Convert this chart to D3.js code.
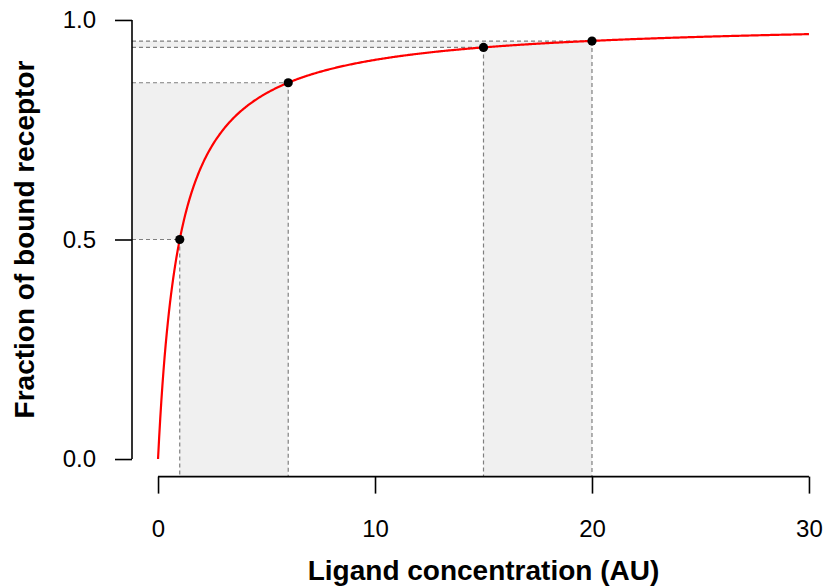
<!DOCTYPE html>
<html>
<head>
<meta charset="utf-8">
<script src="https://cdn.jsdelivr.net/npm/d3@7"></script>
<style>
  html, body { margin: 0; padding: 0; background: #fff; }
  svg { display: block; font-family: "Liberation Sans", Arial, Helvetica, sans-serif; }
</style>
</head>
<body>
<svg id="chart" width="826" height="588"></svg>
<script>
// Dissociation constant of the binding model (AU)
const kd = 1;
// Highlighted ligand concentrations and their bound fractions
const concentrations = [1, 6, 15, 20];
const fractions = [0.5, 0.857, 0.9375, 0.952];
// Pairs of highlighted points that bound each shaded range
const ranges = [[0, 1], [2, 3]];
// Axis ticks
const xTicks = [0, 10, 20, 30];
const yTicks = [0, 0.5, 1];
const yTickLabels = ["0.0", "0.5", "1.0"];
const xDomain = [0, 30];
const yDomain = [0, 1];

const svg = d3.select("#chart");
const plot = { left: 132, right: 835, top: 2.4, bottom: 476.6 };

// 4% padding on each side of the data range, as in a default base plot
const padX = (xDomain[1] - xDomain[0]) * 0.04;
const padY = (yDomain[1] - yDomain[0]) * 0.04;
const x = d3.scaleLinear().domain([xDomain[0] - padX, xDomain[1] + padX]).range([plot.left, plot.right]);
const y = d3.scaleLinear().domain([yDomain[0] - padY, yDomain[1] + padY]).range([plot.bottom, plot.top]);

svg.append("defs").append("clipPath").attr("id", "plotclip")
  .append("rect")
  .attr("x", plot.left).attr("y", plot.top)
  .attr("width", plot.right - plot.left).attr("height", plot.bottom - plot.top);

const g = svg.append("g").attr("clip-path", "url(#plotclip)");

// Shaded ranges: a vertical band between two concentrations and a
// horizontal band between their bound fractions
const xLo = x.domain()[0], yLo = y.domain()[0];
ranges.forEach(([a, b]) => {
  const x0 = concentrations[a], x1 = concentrations[b];
  const y0 = fractions[a], y1 = fractions[b];
  const poly = [[xLo, y0], [x0, y0], [x0, yLo], [x1, yLo], [x1, y1], [xLo, y1]];
  g.append("path")
    .attr("d", d3.line().x(d => x(d[0])).y(d => y(d[1]))(poly) + "Z")
    .attr("fill", "#f0f0f0")
    .attr("stroke", "none");
});

// Dashed guides from each point to both axes
concentrations.forEach((c, i) => {
  g.append("line")
    .attr("x1", x(xLo)).attr("x2", x(c))
    .attr("y1", y(fractions[i])).attr("y2", y(fractions[i]))
    .attr("stroke", "#7f7f7f").attr("stroke-width", 1.2).attr("stroke-dasharray", "4,3");
  g.append("line")
    .attr("x1", x(c)).attr("x2", x(c))
    .attr("y1", y(fractions[i])).attr("y2", y(yLo))
    .attr("stroke", "#7f7f7f").attr("stroke-width", 1.2).attr("stroke-dasharray", "4,3");
});

// Binding curve: fraction bound = L / (L + Kd)
const curveX = d3.range(0, 30.0001, 0.05);
g.append("path")
  .datum(curveX)
  .attr("d", d3.line().x(d => x(d)).y(d => y(d / (d + kd))))
  .attr("fill", "none")
  .attr("stroke", "#ff0000")
  .attr("stroke-width", 2.2);

// Highlighted points
g.selectAll("circle.pt")
  .data(concentrations)
  .join("circle")
  .attr("class", "pt")
  .attr("cx", d => x(d))
  .attr("cy", (d, i) => y(fractions[i]))
  .attr("r", 4.6)
  .attr("fill", "#000");

// X axis
const xAxis = svg.append("g").attr("transform", `translate(0,${plot.bottom})`)
  .call(d3.axisBottom(x).tickValues(xTicks).tickSize(17).tickSizeOuter(0).tickPadding(26));
xAxis.select(".domain").remove();
xAxis.append("line")
  .attr("x1", x(xTicks[0])).attr("x2", x(xTicks[xTicks.length - 1]))
  .attr("stroke", "#000").attr("stroke-width", 1.6);
xAxis.selectAll(".tick line").attr("stroke-width", 1.6);
xAxis.selectAll(".tick text").attr("font-size", 24).attr("fill", "#000")
  .attr("font-family", "Liberation Sans, Arial, sans-serif");

// Y axis
const yAxis = svg.append("g").attr("transform", `translate(${plot.left},0)`)
  .call(d3.axisLeft(y).tickValues(yTicks).tickFormat((d, i) => yTickLabels[i])
    .tickSize(17).tickSizeOuter(0).tickPadding(19));
yAxis.select(".domain").remove();
yAxis.append("line")
  .attr("y1", y(yTicks[0])).attr("y2", y(yTicks[yTicks.length - 1]))
  .attr("stroke", "#000").attr("stroke-width", 1.6);
yAxis.selectAll(".tick line").attr("stroke-width", 1.6);
yAxis.selectAll(".tick text").attr("font-size", 24).attr("fill", "#000")
  .attr("font-family", "Liberation Sans, Arial, sans-serif");

// Axis titles
svg.append("text")
  .attr("x", (plot.left + plot.right) / 2).attr("y", 580)
  .attr("text-anchor", "middle")
  .attr("font-size", 28).attr("font-weight", "bold")
  .text("Ligand concentration (AU)");

svg.append("text")
  .attr("transform", `translate(34,${(plot.top + plot.bottom) / 2}) rotate(-90)`)
  .attr("text-anchor", "middle")
  .attr("font-size", 28).attr("font-weight", "bold")
  .text("Fraction of bound receptor");
</script>
</body>
</html>
